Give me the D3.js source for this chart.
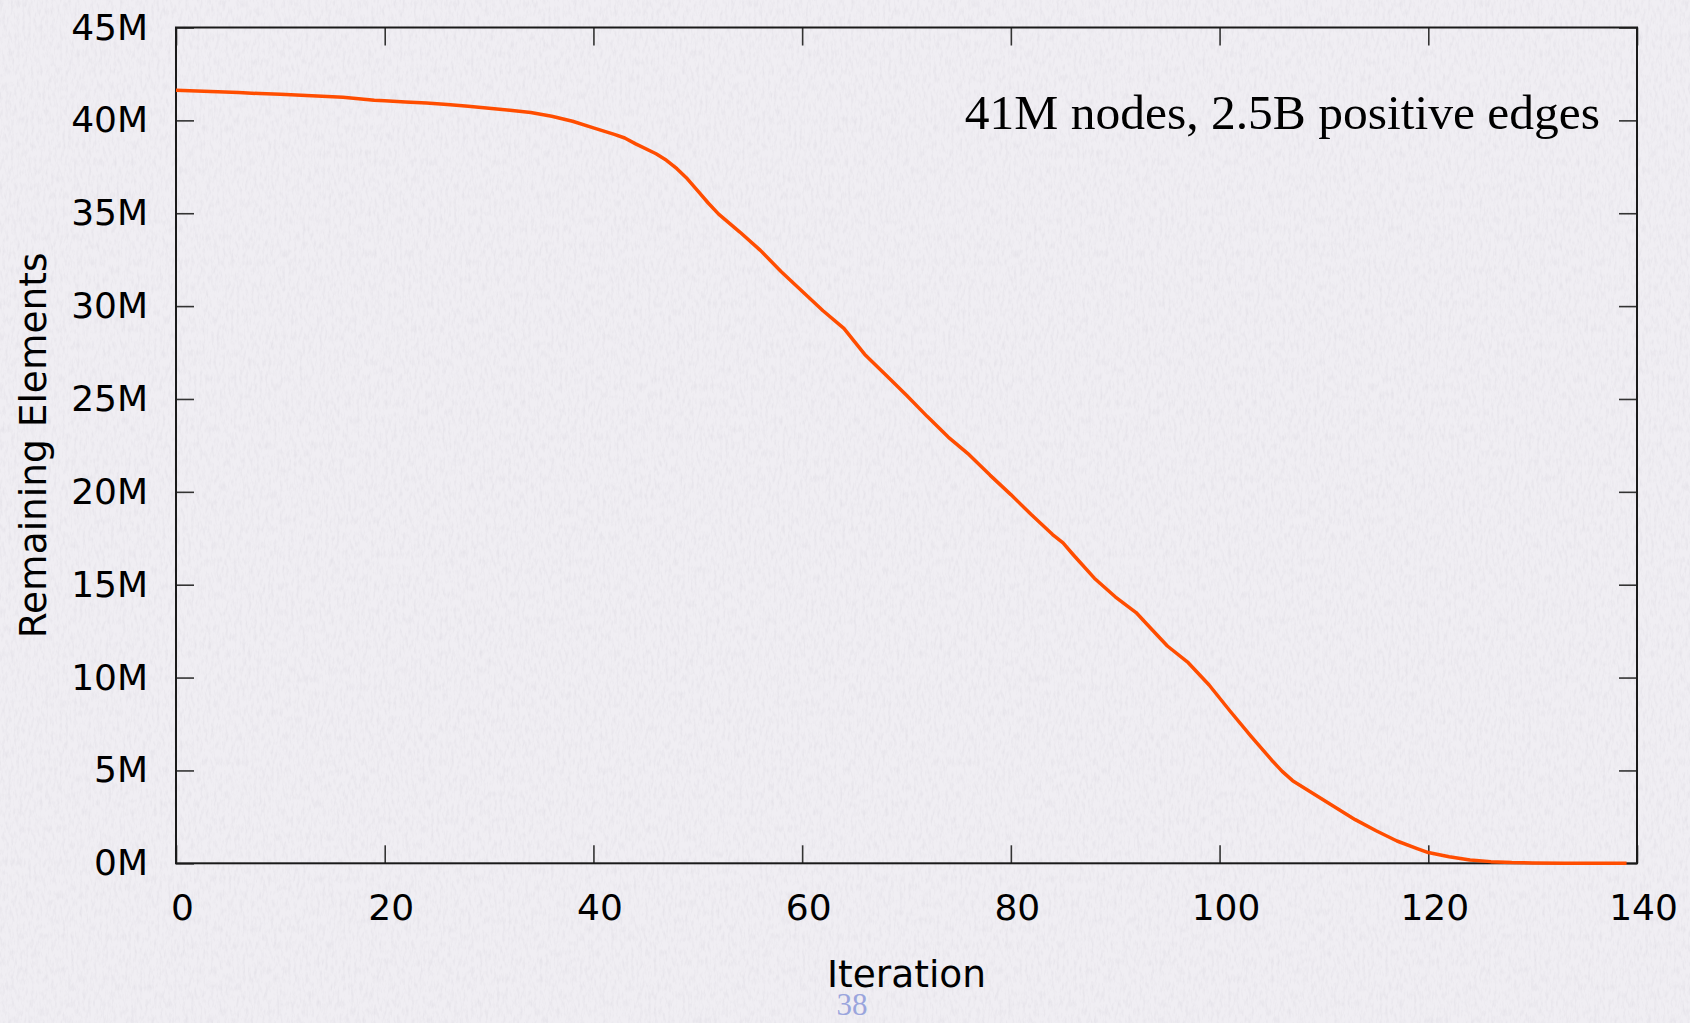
<!DOCTYPE html>
<html>
<head>
<meta charset="utf-8">
<script src="https://cdn.jsdelivr.net/npm/d3@7"></script>
<style>
    html, body { margin: 0; padding: 0; background: #f0eef3; }
    svg { display: block; }
</style>
</head>
<body>
<div id="chart"></div>
<script>
// Remaining elements per iteration (millions)
const iterations = [0, 2, 4, 6, 8, 10, 12, 14, 16, 18, 19, 20, 22, 24, 26, 28, 30, 32, 34, 36, 38, 40,
    42, 43, 44, 46, 47, 48, 49, 50, 51, 52, 54, 56, 58, 60, 62, 64, 65, 66, 68, 70, 72, 74, 76, 78,
    80, 82, 84, 85, 86, 88, 90, 92, 93, 95, 97, 99, 101, 103, 105, 106, 107, 109, 111, 113, 115,
    117, 119, 120, 122, 124, 126, 128, 130, 133, 136, 139];
const remaining = [41.62, 41.58, 41.54, 41.50, 41.44, 41.40, 41.35, 41.30, 41.24, 41.14, 41.08, 41.05,
    40.99, 40.93, 40.86, 40.76, 40.65, 40.55, 40.42, 40.22, 39.95, 39.60, 39.25, 39.05, 38.75, 38.20,
    37.85, 37.40, 36.85, 36.20, 35.55, 34.95, 34.00, 33.00, 31.85, 30.80, 29.75, 28.80, 28.10, 27.40,
    26.30, 25.20, 24.05, 22.95, 22.00, 20.90, 19.85, 18.75, 17.70, 17.25, 16.60, 15.35, 14.35, 13.50,
    12.90, 11.70, 10.80, 9.60, 8.20, 6.85, 5.55, 4.95, 4.45, 3.75, 3.05, 2.35, 1.75, 1.20, 0.78,
    0.58, 0.35, 0.18, 0.09, 0.04, 0.02, 0.005, 0, 0];

const xTicks = [0, 20, 40, 60, 80, 100, 120, 140];
const yTicks = [0, 5, 10, 15, 20, 25, 30, 35, 40, 45];

const xLabel = 'Iteration';
const yLabel = 'Remaining Elements';
const note = '41M nodes, 2.5B positive edges';
const pageNumber = '38';

class LineChart {
    constructor() {
        this.width = 1690;
        this.height = 1023;
        this.margin = { top: 27.5, right: 53, bottom: 159.7, left: 176 };
        this.init();
    }

    init() {
        this.setupSVG();
        this.setupScales();
        this.drawAxes();
        this.drawLine();
        this.drawTexts();
    }

    setupSVG() {
        this.svg = d3.select('#chart')
            .append('svg')
            .attr('width', this.width)
            .attr('height', this.height);

        // paper-like background texture
        const defs = this.svg.append('defs');
        const filter = defs.append('filter').attr('id', 'paper')
            .attr('x', 0).attr('y', 0).attr('width', '100%').attr('height', '100%');
        filter.append('feTurbulence')
            .attr('type', 'fractalNoise')
            .attr('baseFrequency', '0.35 0.12')
            .attr('numOctaves', 3)
            .attr('seed', 4);
        filter.append('feColorMatrix')
            .attr('type', 'matrix')
            .attr('values', '0 0 0 0 0.55  0 0 0 0 0.53  0 0 0 0 0.6  0 0 0 -1.4 0.8');

        this.svg.append('rect')
            .attr('width', this.width)
            .attr('height', this.height)
            .style('fill', '#f0eef3');
        this.svg.append('rect')
            .attr('width', this.width)
            .attr('height', this.height)
            .style('filter', 'url(#paper)')
            .style('opacity', 0.35);

        this.g = this.svg.append('g');
    }

    setupScales() {
        const m = this.margin;
        this.x = d3.scaleLinear().domain([0, 140]).range([m.left, this.width - m.right]);
        this.y = d3.scaleLinear().domain([0, 45]).range([this.height - m.bottom, m.top]);
    }

    drawAxes() {
        const x0 = this.x.range()[0], x1 = this.x.range()[1];
        const y0 = this.y.range()[0], y1 = this.y.range()[1];
        const font = '"DejaVu Sans", sans-serif';

        const styleAxis = (sel) => {
            sel.select('.domain').remove();
            sel.selectAll('.tick line').style('stroke', '#333').style('stroke-width', 1.6);
            sel.selectAll('.tick text')
                .style('font-family', font)
                .style('font-size', '36px')
                .style('fill', '#000');
        };

        // left / bottom with labels
        this.g.append('g')
            .attr('transform', `translate(${x0},0)`)
            .call(d3.axisLeft(this.y).tickValues(yTicks).tickSize(-18).tickPadding(28)
                .tickFormat(d => d + 'M'))
            .call(styleAxis);

        this.g.append('g')
            .attr('transform', `translate(0,${y0})`)
            .call(d3.axisBottom(this.x).tickValues(xTicks).tickSize(-18).tickPadding(31))
            .call(styleAxis)
            .call(s => s.selectAll('.tick text').attr('dx', 6));

        // mirrored ticks on top / right
        this.g.append('g')
            .attr('transform', `translate(${x1},0)`)
            .call(d3.axisRight(this.y).tickValues(yTicks).tickSize(-18).tickFormat(''))
            .call(styleAxis);

        this.g.append('g')
            .attr('transform', `translate(0,${y1})`)
            .call(d3.axisTop(this.x).tickValues(xTicks).tickSize(-18).tickFormat(''))
            .call(styleAxis);

        // frame
        this.g.append('rect')
            .attr('x', x0)
            .attr('y', y1)
            .attr('width', x1 - x0)
            .attr('height', y0 - y1)
            .style('fill', 'none')
            .style('stroke', '#1a1a1a')
            .style('stroke-width', 2);
    }

    drawLine() {
        const points = iterations.map((it, i) => ({ it, v: remaining[i] }));
        const line = d3.line()
            .x(d => this.x(d.it))
            .y(d => this.y(d.v));

        this.g.append('path')
            .datum(points)
            .attr('d', line)
            .style('fill', 'none')
            .style('stroke', '#ff4d00')
            .style('stroke-width', 3.5)
            .style('stroke-linejoin', 'round');
    }

    drawTexts() {
        const cx = (this.x.range()[0] + this.x.range()[1]) / 2;
        const cy = (this.y.range()[0] + this.y.range()[1]) / 2;

        this.g.append('text')
            .attr('x', cx)
            .attr('y', 987)
            .attr('text-anchor', 'middle')
            .style('font-family', '"DejaVu Sans", sans-serif')
            .style('font-size', '37.5px')
            .text(xLabel);

        this.g.append('text')
            .attr('transform', `translate(46,${cy}) rotate(-90)`)
            .attr('text-anchor', 'middle')
            .style('font-family', '"DejaVu Sans", sans-serif')
            .style('font-size', '37.5px')
            .text(yLabel);

        this.g.append('text')
            .attr('x', 1600)
            .attr('y', 129)
            .attr('text-anchor', 'end')
            .style('font-family', '"Liberation Serif", "DejaVu Serif", serif')
            .style('font-size', '49.5px')
            .text(note);

        this.g.append('text')
            .attr('x', 852)
            .attr('y', 1015)
            .attr('text-anchor', 'middle')
            .style('font-family', '"Liberation Serif", serif')
            .style('font-size', '31px')
            .style('fill', '#9aa5dd')
            .text(pageNumber);
    }
}

document.addEventListener('DOMContentLoaded', () => {
    new LineChart();
});
</script>
</body>
</html>
